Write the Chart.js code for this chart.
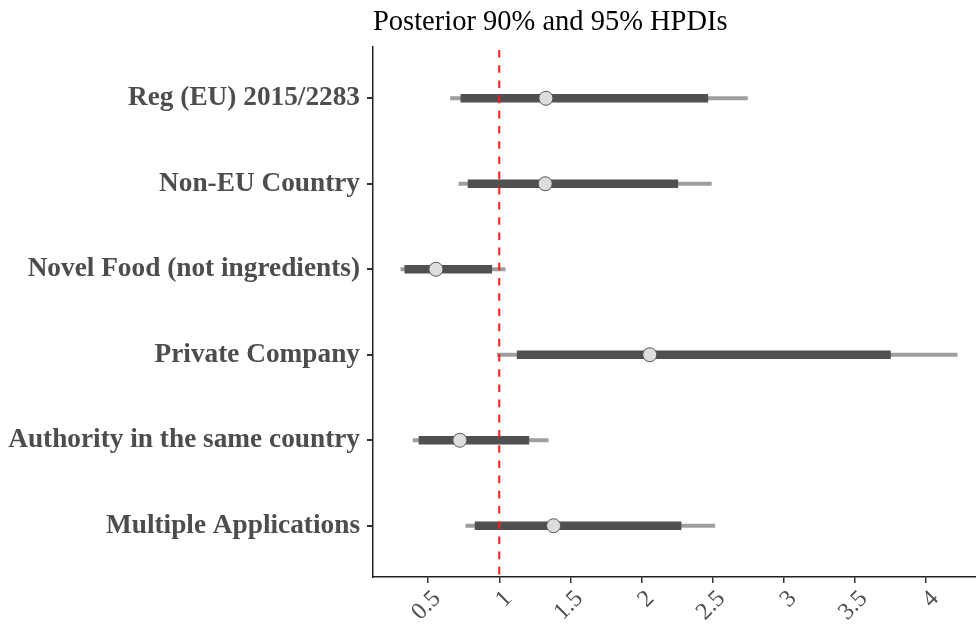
<!DOCTYPE html>
<html>
<head>
<meta charset="utf-8">
<script src="https://cdn.jsdelivr.net/npm/chart.js@4.4.1/dist/chart.umd.min.js"></script>
<style>
  html, body { margin: 0; padding: 0; background: #ffffff; overflow: hidden; }
  #wrap { width: 993px; height: 625px; }
</style>
</head>
<body>
<div id="wrap"><canvas id="hpdi" width="993" height="625"></canvas></div>
<script>
// Predictors, top to bottom
const CATEGORIES = [
  'Reg (EU) 2015/2283',
  'Non-EU Country',
  'Novel Food (not ingredients)',
  'Private Company',
  'Authority in the same country',
  'Multiple Applications'
];

// Posterior point estimates
const POSTERIOR_MEDIAN = [1.328, 1.323, 0.555, 2.058, 0.723, 1.382];

// 90% HPDI (thick segment)
const HPDI90_LOW  = [0.730, 0.781, 0.336, 1.126, 0.436, 0.830];
const HPDI90_HIGH = [2.466, 2.255, 0.947, 3.750, 1.208, 2.278];

// 95% HPDI (thin segment)
const HPDI95_LOW  = [0.657, 0.716, 0.308, 0.986, 0.394, 0.765];
const HPDI95_HIGH = [2.745, 2.491, 1.042, 4.219, 1.344, 2.515];

// Reference value (no effect)
const REF_VALUE = 1;

// Axis ticks
const X_TICKS = [0.5, 1, 1.5, 2, 2.5, 3, 3.5, 4];
const X_TICK_LABELS = ['0.5', '1', '1.5', '2', '2.5', '3', '3.5', '4'];

// x range padded by 5% of the data span on each side
const allLow = Math.min(...HPDI95_LOW);
const allHigh = Math.max(...HPDI95_HIGH);
const span = allHigh - allLow;
const X_MIN = allLow - 0.05 * span;
const X_MAX = allHigh + 0.05 * span;

const pos = (i) => i + 1;

const refLine = {
  id: 'refLine',
  afterDatasetsDraw(chart) {
    const { ctx, chartArea } = chart;
    const x = chart.scales.x.getPixelForValue(REF_VALUE);
    ctx.save();
    ctx.strokeStyle = '#ff1a1a';
    ctx.lineWidth = 2;
    ctx.setLineDash([7.6, 7.6]);
    ctx.lineDashOffset = 12.2;
    ctx.beginPath();
    ctx.moveTo(x, chartArea.top);
    ctx.lineTo(x, chartArea.bottom);
    ctx.stroke();
    ctx.restore();
  }
};

new Chart(document.getElementById('hpdi'), {
  type: 'bar',
  data: {
    datasets: [
      {
        type: 'line',
        label: 'Median',
        data: CATEGORIES.map((_, i) => ({ x: POSTERIOR_MEDIAN[i], y: pos(i) })),
        showLine: false,
        pointRadius: 7,
        pointBackgroundColor: '#dddddd',
        pointBorderColor: '#555555',
        pointBorderWidth: 1,
        order: 0
      },
      {
        label: '90% HPDI',
        data: CATEGORIES.map((_, i) => ({ x: [HPDI90_LOW[i], HPDI90_HIGH[i]], y: pos(i) })),
        backgroundColor: '#505050',
        barThickness: 8,
        grouped: false,
        order: 1
      },
      {
        label: '95% HPDI',
        data: CATEGORIES.map((_, i) => ({ x: [HPDI95_LOW[i], HPDI95_HIGH[i]], y: pos(i) })),
        backgroundColor: '#9e9e9e',
        barThickness: 3.5,
        grouped: false,
        order: 2
      }
    ]
  },
  options: {
    indexAxis: 'y',
    responsive: false,
    animation: false,
    layout: { padding: 0 },
    plugins: {
      legend: { display: false },
      tooltip: { enabled: false },
      title: {
        display: true,
        text: 'Posterior 90% and 95% HPDIs',
        align: 'start',
        fullSize: false,
        color: '#000000',
        font: { family: 'Liberation Serif', size: 28.5, weight: 'normal', lineHeight: 1.2 },
        padding: { top: 5, bottom: 7.8 }
      }
    },
    scales: {
      x: {
        type: 'linear',
        min: X_MIN,
        max: X_MAX,
        afterBuildTicks(axis) {
          axis.ticks = X_TICKS.map(v => ({ value: v }));
        },
        afterFit(axis) {
          axis.height = 48;
          axis.paddingLeft = 0;
          axis.paddingRight = 0;
        },
        ticks: {
          callback: (v, i) => X_TICK_LABELS[i],
          color: '#4d4d4d',
          font: { family: 'Liberation Serif', size: 24 },
          minRotation: 45,
          maxRotation: 45,
          padding: 2,
          labelOffset: 9
        },
        grid: { drawOnChartArea: false, drawTicks: true, tickLength: 6, color: '#333333', lineWidth: 1.5 },
        border: { display: true, color: '#222222', width: 1.5 }
      },
      y: {
        type: 'linear',
        offset: false,
        min: 0.4,
        max: CATEGORIES.length + 0.6,
        reverse: true,
        afterBuildTicks(axis) {
          axis.ticks = CATEGORIES.map((_, i) => ({ value: pos(i) }));
        },
        afterFit(axis) { axis.width = 373; },
        ticks: {
          callback: (v) => CATEGORIES[Math.round(v) - 1],
          color: '#4d4d4d',
          font: { family: 'Liberation Serif', size: 27.3, weight: 'bold' },
          padding: 7,
          autoSkip: false
        },
        grid: { offset: false, drawOnChartArea: false, drawTicks: true, tickLength: 6, color: '#333333', lineWidth: 2 },
        border: { display: true, color: '#222222', width: 1.5 }
      }
    }
  },
  plugins: [refLine]
});
</script>
</body>
</html>
